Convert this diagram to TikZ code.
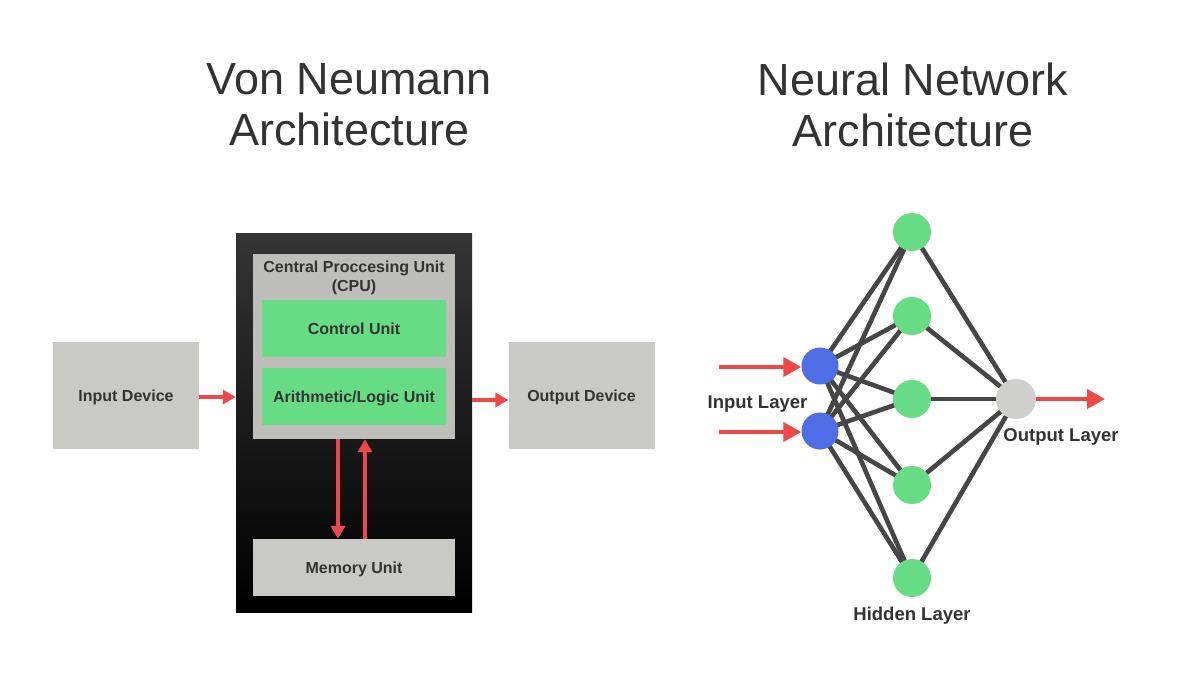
\documentclass[tikz,border=0pt]{standalone}
\usepackage{fontspec}
\setmainfont{Liberation Sans}
\usetikzlibrary{arrows.meta, positioning, backgrounds}
\definecolor{colText}{HTML}{333333}
\definecolor{colGray}{HTML}{C9C9C5}
\definecolor{colCpu}{HTML}{BEBEBB}
\definecolor{colGreen}{HTML}{66DD84}
\definecolor{colBlue}{HTML}{4F6EE6}
\definecolor{colOut}{HTML}{CFCFCD}
\definecolor{colRed}{HTML}{EF4747}
\definecolor{colEdge}{HTML}{464646}
\definecolor{colShadeTop}{HTML}{353535}

\begin{document}
\begin{tikzpicture}[
  x=1pt, y=-1pt,
  font=\bfseries\fontsize{16}{19}\selectfont,
  every node/.style={align=center, inner sep=0pt, text=colText},
  title/.style={font=\fontsize{45}{51}\selectfont},
  devbox/.style={fill=colGray, minimum width=146pt, minimum height=107pt, text depth=0pt},
  unitbox/.style={fill=colGreen, minimum width=184pt, minimum height=57pt, text depth=0pt},
  neuron/.style={circle, fill=#1, minimum size=38pt},
  layerlabel/.style={font=\bfseries\fontsize{18.5}{22}\selectfont, anchor=base},
  redarrow/.style={-{Triangle[length=13pt, width=14pt]}, line width=3.8pt, draw=colRed},
  bigarrow/.style={-{Triangle[length=18pt, width=19pt]}, line width=4pt, draw=colRed},
  link/.style={line width=4.6pt, draw=colEdge},
]
\useasboundingbox (0,0) rectangle (1200,675);

%% ============================================================
%% Titles
%% ============================================================
\node[title] (vnTitle) at (349.5,104.5) {Von Neumann\\Architecture};
\node[title] (nnTitle) at (913,104.5)   {Neural Network\\Architecture};

%% ============================================================
%% Von Neumann - devices, CPU and memory
%% ============================================================
\node[devbox] (inDev)  at (126,395.5)   {Input Device};
\node[devbox] (outDev) at (581.5,395.5) {Output Device};

\node[minimum width=236pt, minimum height=379pt,
      top color=colShadeTop, bottom color=black]
  (machine) at (354,422.5) {};

\node[fill=colCpu, minimum width=202pt, minimum height=185pt]
  (cpu) at (354,346.5) {};
\node[font=\bfseries\fontsize{16}{18.5}\selectfont, anchor=north]
  (cpuLabel) at (354,261) {Central Proccesing Unit\\(CPU)};

\node[unitbox] (ctrl) at (354,328.5) {Control Unit};
\node[unitbox] (alu)  at (354,396.5) {Arithmetic/Logic Unit};

\node[fill=colGray, minimum width=202pt, minimum height=57pt, text depth=0pt]
  (mem) at (354,567.5) {Memory Unit};

%% ============================================================
%% Von Neumann - arrows
%% ============================================================
\draw[redarrow] ([yshift=-1.5pt]inDev.east) -- ([yshift=-1.5pt]inDev.east -| machine.west);
\draw[redarrow] ([yshift=-4.5pt]outDev.west -| machine.east) -- ([yshift=-4.5pt]outDev.west);
\draw[redarrow] ([xshift=-16pt]cpu.south) -- ([xshift=-16pt]mem.north);
\draw[redarrow] ([xshift=11pt]mem.north) -- ([xshift=11pt]cpu.south);

%% ============================================================
%% Neural network - layers
%% ============================================================
\node[neuron=colBlue, minimum size=37pt] (in1) at (820,366) {};
\node[neuron=colBlue, minimum size=37pt] (in2) at (820,431) {};

\node[neuron=colGreen] (hid1) at (912,232) {};
\node[neuron=colGreen] (hid2) at (912,316) {};
\node[neuron=colGreen] (hid3) at (912,399) {};
\node[neuron=colGreen] (hid4) at (912,485) {};
\node[neuron=colGreen] (hid5) at (912,578) {};

\node[neuron=colOut, minimum size=40pt] (outN) at (1016,399) {};

\node[layerlabel] (inLabel)  at (757.5,408) {Input Layer};
\node[layerlabel] (hidLabel) at (912,620)   {Hidden Layer};
\node[layerlabel] (outLabel) at (1061,441)  {Output Layer};

%% ============================================================
%% Neural network - connections
%% ============================================================
\begin{scope}[on background layer]
  \foreach \src in {in1, in2}
    \foreach \dst in {hid1, hid2, hid3, hid4, hid5}
      \draw[link] (\src.center) -- (\dst.center);
  \foreach \src in {hid1, hid2, hid3, hid4, hid5}
    \draw[link] (\src.center) -- (outN.center);
\end{scope}

\coordinate (feed1) at (719,367);
\coordinate (feed2) at (719,432);
\coordinate (result) at (1105,399);
\draw[bigarrow] (feed1) -- (in1.west |- feed1);
\draw[bigarrow] (feed2) -- (in2.west |- feed2);
\draw[bigarrow] (outN.east) -- (result);

\end{tikzpicture}
\end{document}
